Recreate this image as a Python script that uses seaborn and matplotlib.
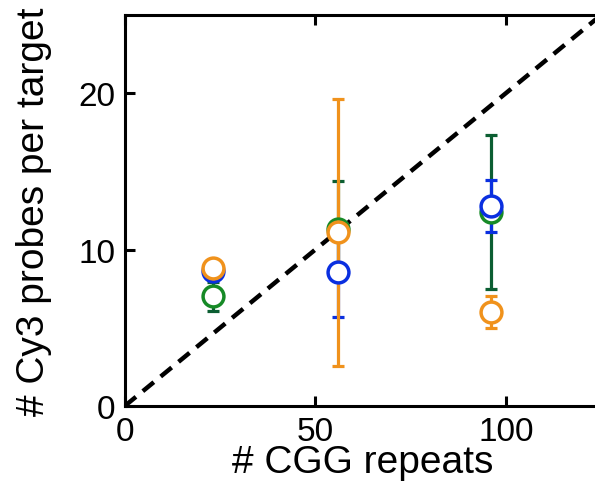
import numpy as np
import pandas as pd
import matplotlib.pyplot as plt
import seaborn as sns

# === Data ===
cgg_repeats = [23, 56, 96]
series_names = ["green", "blue", "orange"]
green_mean = [7.0, 11.3, 12.4]
green_err = [0.9, 3.1, 4.9]
blue_mean = [8.6, 8.55, 12.8]
blue_err = [0.3, 2.85, 1.65]
orange_mean = [8.85, 11.1, 6.0]
orange_err = [0.3, 8.55, 1.0]
diag_x = [0, 125]
diag_y = [0, 25]

colors = {"green": "#168a26", "blue": "#0a2fe0", "orange": "#f0921c"}
err_colors = {"green": "#0b5e32", "blue": "#0a2fe0", "orange": "#f0921c"}

df = pd.DataFrame({
    "repeats": cgg_repeats * 3,
    "mean": green_mean + blue_mean + orange_mean,
    "err": green_err + blue_err + orange_err,
    "series": np.repeat(series_names, len(cgg_repeats)),
})

sns.set_style("ticks", {"axes.edgecolor": "black", "text.color": "black",
                        "xtick.color": "black", "ytick.color": "black",
                        "axes.labelcolor": "black"})
plt.rcParams["font.family"] = ["Liberation Sans", "DejaVu Sans"]

fig = plt.figure(figsize=(5.95, 4.89), dpi=100)
ax = fig.add_axes([0.21, 0.168, 0.80, 0.799])

sns.lineplot(x=diag_x, y=diag_y, ax=ax, color="black", linewidth=3.2,
             linestyle=(0, (3.2, 2.0)), zorder=1)

for i, name in enumerate(series_names):
    sub = df[df["series"] == name]
    ax.errorbar(sub["repeats"], sub["mean"], yerr=sub["err"], fmt="none",
                ecolor=err_colors[name], elinewidth=2.3, capsize=4, capthick=2.3,
                zorder=2 + i)
    ax.plot(sub["repeats"], sub["mean"], "o", markersize=15, mfc="white",
            mec=colors[name], mew=2.5, zorder=5 + i)

ax.set_xlim(0, 125)
ax.set_ylim(0, 25)
ax.set_xticks([0, 50, 100])
ax.set_yticks([0, 10, 20])
ax.set_xlabel("# CGG repeats", fontsize=28, labelpad=-2)
ax.set_ylabel("# Cy3 probes per target", fontsize=28, labelpad=19)
ax.tick_params(direction="in", length=7, width=2.2, labelsize=24, top=True,
               pad=7)
for side in ["left", "bottom", "top"]:
    ax.spines[side].set_linewidth(2.2)
ax.spines["right"].set_visible(False)

fig.savefig("out.png", dpi=100)
